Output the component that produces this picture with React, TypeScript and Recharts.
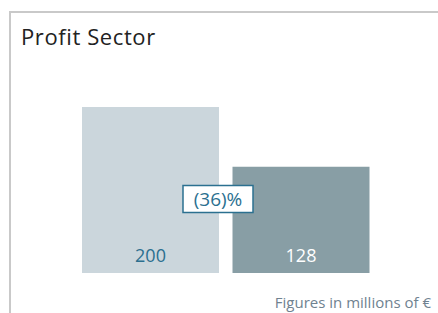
import { Bar, BarChart, Cell, LabelList, XAxis, YAxis } from 'recharts'

const categories = ['Previous year', 'Current year']
const profitValues = [200, 128]
const barColors = ['#cbd6dc', '#889ea5']
const valueColors = ['#2b6f8f', '#ffffff']

const data = categories.map((name, i) => ({ name, value: profitValues[i] }))

const FONT = '"Open Sans", sans-serif'

function pctLabel(from: number, to: number) {
  const pct = Math.round(((to - from) / from) * 100)
  return pct < 0 ? `(${Math.abs(pct)})%` : `${pct}%`
}

function ValueLabel({ x, y, width, height, value, index }: any) {
  const cx = x + width / 2
  return (
    <g>
      <text x={cx} y={y + height - 11} textAnchor="middle" fontSize={18} fontFamily={FONT} fill={valueColors[index]}>
        {value}
      </text>
      {index === 0 && (
        <g>
          <rect x={x + width - 36} y={185.5} width={70} height={27} fill="#fff" stroke="#2b7090" strokeWidth={1.5} />
          <text x={x + width - 1} y={206} textAnchor="middle" fontSize={19} fontFamily={FONT} fill="#2b7090">
            {pctLabel(profitValues[0], profitValues[1])}
          </text>
        </g>
      )}
    </g>
  )
}

export default function App() {
  return (
    <div style={{ position: 'absolute', left: 0, top: 0, width: 438, height: 313, overflow: 'hidden', background: '#fff' }}>
      <div style={{ position: 'absolute', left: 9, top: 11, width: 460, height: 340, borderLeft: '2px solid #c9c9c9', borderTop: '2px solid #c9c9c9' }} />
      <div style={{ position: 'absolute', left: 21, top: 20, fontFamily: FONT, fontSize: 22, letterSpacing: 0.6, color: '#222', lineHeight: '32px' }}>
        Profit Sector
      </div>
      <div style={{ position: 'absolute', left: 0, top: 0 }}>
        <BarChart width={438} height={313} data={data} margin={{ top: 107, right: 35, bottom: 40, left: 48 }}>
          <XAxis dataKey="name" height={0} tick={false} tickLine={false} axisLine={{ stroke: '#6b7a8b', strokeWidth: 1.5 }} padding={{ left: 27, right: 27 }} />
          <YAxis hide domain={[0, 200]} />
          <Bar dataKey="value" barSize={137} isAnimationActive={false}>
            {data.map((d, i) => <Cell key={d.name} fill={barColors[i]} />)}
            <LabelList dataKey="value" content={<ValueLabel />} />
          </Bar>
        </BarChart>
      </div>
      <div style={{ position: 'absolute', right: 7, top: 292, fontFamily: FONT, fontSize: 15, color: '#6f8290' }}>
        Figures in millions of €
      </div>
    </div>
  )
}
